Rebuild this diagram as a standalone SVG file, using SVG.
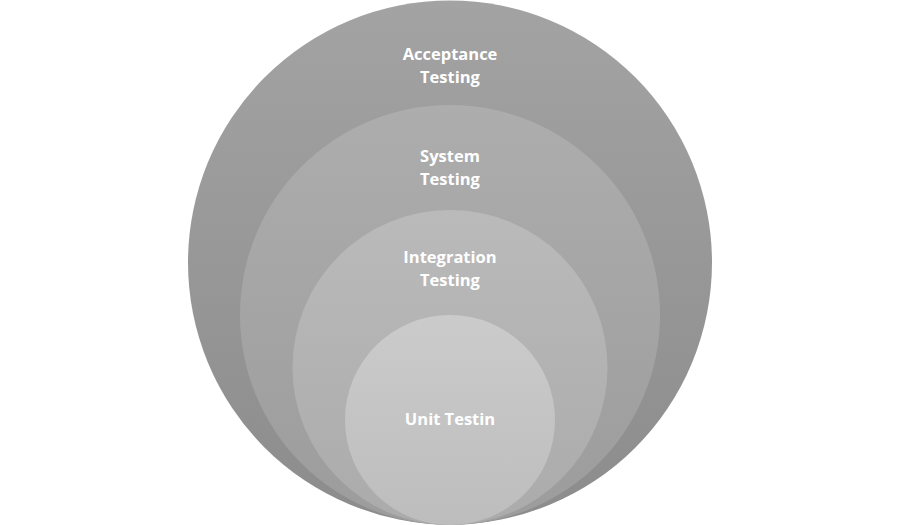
<svg xmlns="http://www.w3.org/2000/svg" width="900" height="525" viewBox="0 0 900 525">
  <defs>
    <linearGradient id="g1" x1="0" y1="0" x2="0" y2="1">
      <stop offset="0" stop-color="#a3a3a3"/>
      <stop offset="1" stop-color="#8c8c8c"/>
    </linearGradient>
    <linearGradient id="g2" x1="0" y1="0" x2="0" y2="1">
      <stop offset="0" stop-color="#adadad"/>
      <stop offset="1" stop-color="#9c9c9c"/>
    </linearGradient>
    <linearGradient id="g3" x1="0" y1="0" x2="0" y2="1">
      <stop offset="0" stop-color="#bababa"/>
      <stop offset="1" stop-color="#ababab"/>
    </linearGradient>
    <linearGradient id="g4" x1="0" y1="0" x2="0" y2="1">
      <stop offset="0" stop-color="#cbcbcb"/>
      <stop offset="1" stop-color="#bdbdbd"/>
    </linearGradient>
  </defs>
  <style>
    .lbl { font-family: "Open Sans", "Liberation Sans", sans-serif; font-weight: 700; font-size: 16.5px; fill: #ffffff; text-anchor: middle; }
  </style>
  <rect width="900" height="525" fill="#ffffff"/>
  <g id="acceptance">
    <circle cx="450" cy="262.5" r="262" fill="url(#g1)"/>
    <text class="lbl" x="450" y="60">Acceptance</text>
    <text class="lbl" x="450" y="83">Testing</text>
  </g>
  <g id="system">
    <circle cx="450" cy="315" r="210" fill="url(#g2)"/>
    <text class="lbl" x="450" y="162">System</text>
    <text class="lbl" x="450" y="185">Testing</text>
  </g>
  <g id="integration">
    <circle cx="450" cy="367.5" r="157.5" fill="url(#g3)"/>
    <text class="lbl" x="450" y="263">Integration</text>
    <text class="lbl" x="450" y="286">Testing</text>
  </g>
  <g id="unit">
    <circle cx="450" cy="420" r="105" fill="url(#g4)"/>
    <text class="lbl" x="450" y="425">Unit Testin</text>
  </g>
</svg>
